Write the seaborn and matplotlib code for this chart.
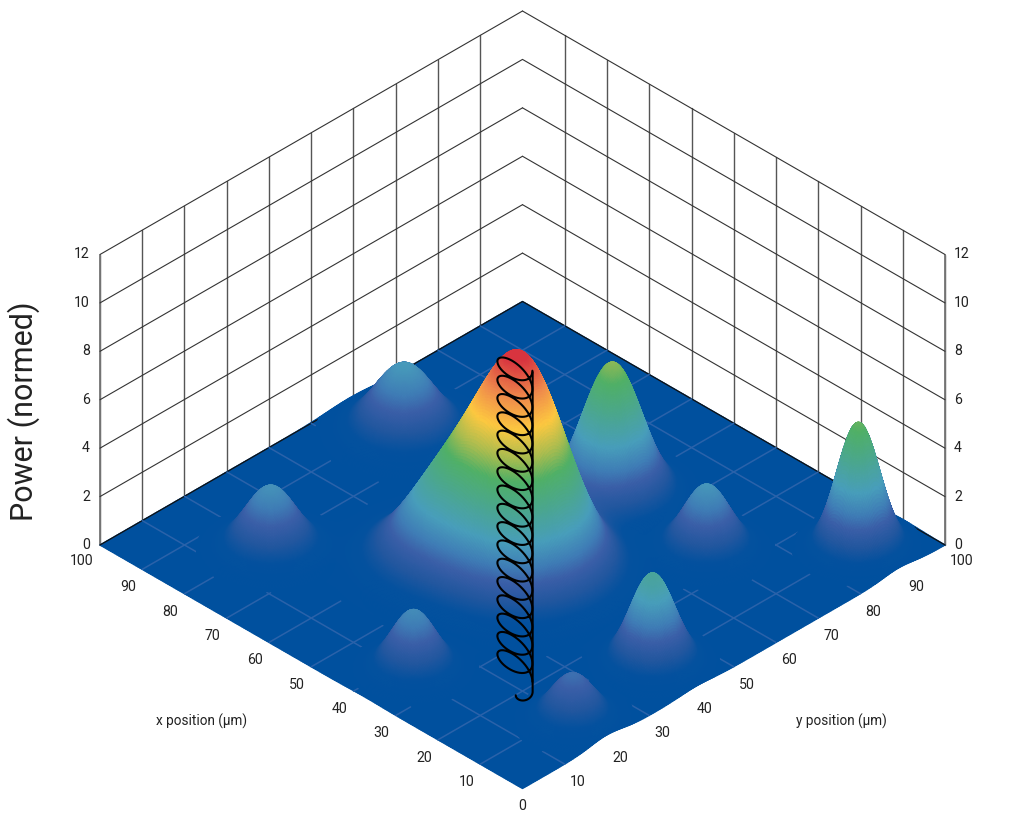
import numpy as np
import matplotlib
matplotlib.use("Agg")
import matplotlib.pyplot as plt
import seaborn as sns
from mpl_toolkits.mplot3d import proj3d, art3d

# ---- data ----
x_ticks = [10, 20, 30, 40, 50, 60, 70, 80, 90, 100]
y_ticks = [10, 20, 30, 40, 50, 60, 70, 80, 90, 100]
z_ticks = [0, 2, 4, 6, 8, 10, 12]
x_title = "x position (µm)"
y_title = "y position (µm)"
z_title = "Power (normed)"

# peaks of the power surface
peak_x = [44.2, 56.3, 87.1, 49.3, 27.0, 10.3, 8.0, 37.2, 78.8, 9.5]
peak_y = [44.1, 36.9, 59.1, 70.6, 70.6, 41.1, 19.9, 11.4, 19.2, 89.0]
peak_amp = [8.7, 3.0, 2.8, 5.5, 2.7, 3.7, 1.9, 2.45, 2.6, 5.2]
peak_sig = [7.6, 7.0, 5.2, 5.0, 4.0, 3.8, 3.8, 3.8, 4.4, 3.6]

# colour by height
levels = [0.0, 0.5, 1.0, 1.6, 2.1, 2.9, 4.0, 5.0, 5.8, 6.8, 7.9, 9.0]
colors = ["#00509E", "#04519E", "#22579F", "#3B5FA8", "#3F7DB6", "#489EBB", "#4BA78E",
          "#50B067", "#A8BC50", "#FDC840", "#EF8A4C", "#D8343F"]

# coil
coil_x, coil_y = 24.7, 22.9
coil_halfwidth = 2.93
coil_depth = 3.7
coil_tilt = 0.38
coil_turns = 17
coil_top = 12.85
post_x, post_y = 18.7, 21.1
post_top = 13.2

# ---- style ----
sns.set_theme(style="white")
plt.rcParams["font.family"] = ["Roboto", "DejaVu Sans"]
cmap = sns.blend_palette(colors, n_colors=512, as_cmap=True)

W, H = 1016, 815
fig = plt.figure(figsize=(W / 100, H / 100), dpi=100)
ax = fig.add_axes([0, 0, 1, 1], projection="3d", computed_zorder=False)

# Matplotlib X = "y position" (runs right), Matplotlib Y = "x position" (runs left)
ax.set_xlim(0, 100)
ax.set_ylim(0, 100)
ax.set_zlim(0, 12)
ax.set_proj_type("ortho")
elev = np.degrees(np.arcsin(487 / 845))
ax.view_init(elev=elev, azim=-135)
ax.set_box_aspect((1, 1, 290.5 / np.cos(np.radians(elev)) * np.sqrt(2) / 845))
ax.set_axis_off()

# place the box so that its floor corners land on the reference pixels
M = ax.get_proj()
vx, vy, _ = proj3d.proj_transform(np.array([0, 100.]), np.array([100, 0.]), np.zeros(2), M)
S = 845 / (vx[1] - vx[0])
Ax = 100 - S * vx[0]
Ay = (815 - 545) - S * vy[0]
v = ax.viewLim
side = S * v.width
ax.set_position([(Ax + S * v.x0) / W, (Ay + S * v.y0) / H, side / W, side / H])


def surface(a, b):
    z = np.zeros_like(a, dtype=float)
    for pa, pb, amp, sig in zip(peak_x, peak_y, peak_amp, peak_sig):
        z += amp * np.exp(-((a - pa) ** 2 + (b - pb) ** 2) / (2 * sig ** 2))
    return z


def label(b, a, z, text, dx, dy, ha="center"):
    px, py, _ = proj3d.proj_transform(b, a, z, M)
    ax.annotate(text, (px, py), xycoords="data", xytext=(dx, dy), textcoords="offset pixels",
                fontsize=10.2, color="#222222", ha=ha, va="center", annotation_clip=False)


# walls
wall_v = dict(color="#555555", lw=1.0, zorder=1)
wall_h = dict(color="#333333", lw=0.8, zorder=1)
for t in range(0, 100, 10):
    ax.plot([t, t], [100, 100], [0, 12], **wall_v)
    ax.plot([100, 100], [t, t], [0, 12], **wall_v)
ax.plot([0, 0], [100, 100], [0, 12], color="#777777", lw=1.3, zorder=1)
ax.plot([100, 100], [0, 0], [0, 12], color="#777777", lw=1.3, zorder=1)
for zt in z_ticks[1:]:
    ax.plot([0, 100], [100, 100], [zt, zt], **wall_h)
    ax.plot([100, 100], [0, 100], [zt, zt], **wall_h)

# surface grid
g0 = np.linspace(0, 100, 201)
B0, A0 = np.meshgrid(g0, g0)
ax.plot_surface(B0, A0, surface(A0, B0), color=colors[0], shade=False, rstride=1, cstride=1,
                edgecolor=colors[0], linewidth=1.0, antialiased=True, zorder=2)

# back edges and faint floor lines
ax.plot([0, 100], [100, 100], [0, 0], color="#111111", lw=0.9, zorder=3)
ax.plot([100, 100], [0, 100], [0, 0], color="#111111", lw=0.9, zorder=3)
s = np.linspace(0, 100, 801)
for t in x_ticks[:-1]:
    z1 = surface(np.full_like(s, t), s)
    ax.plot(np.where(z1 < 0.05, s, np.nan), np.full_like(s, t), np.zeros_like(s),
            color="#2A62AA", lw=1.1, zorder=3)
for t in y_ticks[:-1]:
    z1 = surface(s, np.full_like(s, t))
    ax.plot(np.full_like(s, t), np.where(z1 < 0.05, s, np.nan), np.zeros_like(s),
            color="#2A62AA", lw=1.1, zorder=3)

# coloured surface on top, only where it rises off the floor
g = np.linspace(0, 100, 561)
BB, AA = np.meshgrid(g, g)
ZZ = surface(AA, BB)
Zc = 0.25 * (ZZ[:-1, :-1] + ZZ[1:, :-1] + ZZ[:-1, 1:] + ZZ[1:, 1:])
keep = Zc > 0.05
i, j = np.nonzero(keep)
quads = np.stack([
    np.stack([BB[i, j], AA[i, j], ZZ[i, j]], axis=-1),
    np.stack([BB[i, j + 1], AA[i, j + 1], ZZ[i, j + 1]], axis=-1),
    np.stack([BB[i + 1, j + 1], AA[i + 1, j + 1], ZZ[i + 1, j + 1]], axis=-1),
    np.stack([BB[i + 1, j], AA[i + 1, j], ZZ[i + 1, j]], axis=-1),
], axis=1)
cols = cmap(np.interp(Zc[keep], levels, np.linspace(0, 1, len(levels))))
poly = art3d.Poly3DCollection(quads, facecolors=cols, edgecolors=cols, linewidths=0.7,
                              antialiased=True, zorder=4)
ax.add_collection3d(poly, autolim=False)

# coil
t = np.linspace(0, 2 * np.pi * coil_turns, 2400)
u = coil_halfwidth / np.sqrt(2)
w = coil_depth / np.sqrt(2)
hx = coil_x - u * np.cos(t) + w * np.sin(t)
hy = coil_y + u * np.cos(t) + w * np.sin(t)
hz = coil_top * t / t.max() - coil_tilt * np.cos(t)
ax.plot(hy, hx, hz, color="black", lw=1.5, zorder=5)
th = np.linspace(0, np.pi, 40)
hook = 1.0 * (1 - np.cos(th))
ax.plot(np.r_[post_y, post_y - hook], np.r_[post_x, post_x + hook],
        np.r_[post_top, -0.29 * np.sin(th) - 0.15 * th / np.pi],
        color="black", lw=1.5, zorder=5)

# tick labels
for tv in x_ticks[:-1]:
    label(0, tv, 0, str(tv), -14, -18)
for tv in y_ticks[:-1]:
    label(tv, 0, 0, str(tv), 13, -18)
label(0, 100, 0, "100", -18, -16)
label(100, 0, 0, "100", 17, -16)
label(0, 0, 0, "0", 0, -17)
for zt in z_ticks:
    label(0, 100, zt, str(zt), -10, 0, ha="right")
    label(100, 0, zt, str(zt), 9, 0, ha="left")

fig.text(202 / W, 1 - 721 / H, x_title, fontsize=9.8, color="#222222", ha="center", va="center")
fig.text(841 / W, 1 - 721 / H, y_title, fontsize=9.8, color="#222222", ha="center", va="center")
fig.text(24 / W, 1 - 411 / H, z_title, fontsize=22, color="#222222", rotation=90,
         ha="center", va="center")

fig.savefig("out.png", dpi=100, facecolor="white")
